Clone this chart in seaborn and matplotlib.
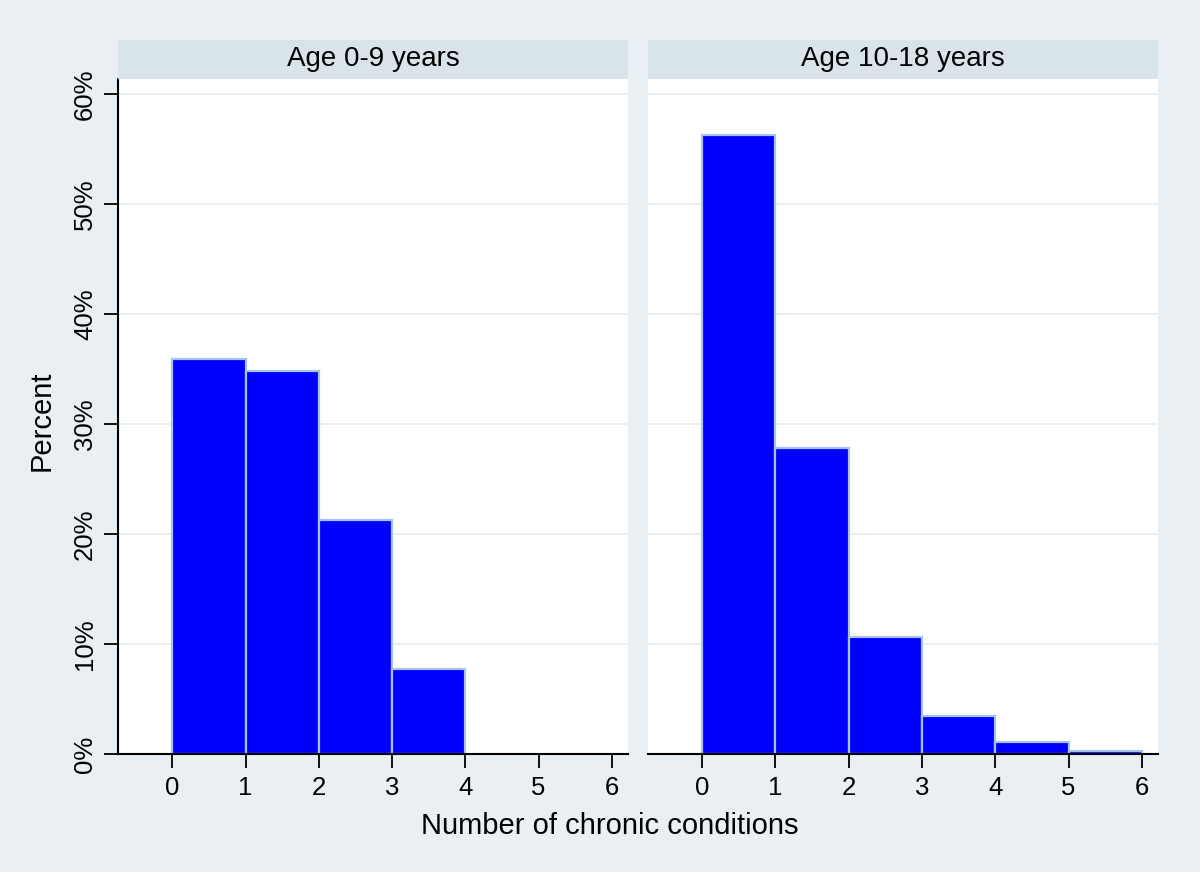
import pandas as pd
import matplotlib
matplotlib.use("Agg")
import matplotlib.pyplot as plt
import matplotlib.patches as mpatches
import seaborn as sns

# percent of children by number of chronic conditions
conditions_young = [0, 1, 2, 3]
percent_young = [35.9, 34.8, 21.3, 7.7]
conditions_teen = [0, 1, 2, 3, 4, 5]
percent_teen = [56.3, 27.8, 10.6, 3.5, 1.1, 0.25]
panel_titles = ["Age 0-9 years", "Age 10-18 years"]
ytick_vals = [0, 10, 20, 30, 40, 50, 60]
ytick_labels = ["0%", "10%", "20%", "30%", "40%", "50%", "60%"]
xtick_vals = [0, 1, 2, 3, 4, 5, 6]

sns.set_style("white")
plt.rcParams["font.family"] = ["Liberation Sans", "DejaVu Sans"]
plt.rcParams["text.color"] = "black"
plt.rcParams["xtick.color"] = "black"
plt.rcParams["ytick.color"] = "black"

bg = "#e9eff2"
strip_col = "#d9e4ea"
W, H = 1200, 872

fig = plt.figure(figsize=(12, 8.72), dpi=100)
fig.patch.set_facecolor(bg)

panels = [(118, conditions_young, percent_young), (648, conditions_teen, percent_teen)]
for i, (x0, xs, ps) in enumerate(panels):
    df = pd.DataFrame({"n": xs, "pct": ps})
    ax = fig.add_axes([x0 / W, 118 / H, 510 / W, 675 / H])
    ax.set_facecolor("white")
    ax.set_axisbelow(True)
    for yv in ytick_vals:
        ax.axhline(yv, color="#e9eef0", lw=1.3, zorder=0)
    sns.histplot(data=df, x="n", weights="pct", binwidth=1, binrange=(0, len(xs)), ax=ax,
                 color="#0000ff", edgecolor="#a6c2ee", linewidth=1.6, alpha=1)
    ax.set_xlim(-0.74, 6.22)
    ax.set_ylim(0, 61.4)
    ax.set_xticks(xtick_vals)
    ax.set_xticklabels([str(v) for v in xtick_vals], fontsize=18.5)
    ax.tick_params(axis="x", length=10, width=1.3, color="black", pad=6, direction="out",
                   bottom=True, labelcolor="black")
    ax.set_xlabel("")
    ax.set_ylabel("")
    for s in ["top", "right"]:
        ax.spines[s].set_visible(False)
    ax.spines["bottom"].set_color("black")
    ax.spines["bottom"].set_linewidth(1.5)
    if i == 0:
        ax.spines["left"].set_color("black")
        ax.spines["left"].set_linewidth(1.5)
        ax.set_yticks(ytick_vals)
        ax.set_yticklabels(ytick_labels, fontsize=18.5, rotation=90, va="center")
        ax.tick_params(axis="y", length=10, width=1.3, color="black", pad=5, direction="out",
                       left=True, labelcolor="black")
    else:
        ax.spines["left"].set_visible(False)
        ax.set_yticks([])
    # strip header
    fig.add_artist(mpatches.Rectangle((x0 / W, (H - 79) / H), 510 / W, 39 / H,
                                      transform=fig.transFigure, facecolor=strip_col,
                                      edgecolor="none"))
    fig.text((x0 + 255) / W, (H - 59) / H, panel_titles[i], ha="center", va="center",
             fontsize=20, color="black")

fig.text(610 / W, (H - 826) / H, "Number of chronic conditions", ha="center", va="center",
         fontsize=21, color="black")
fig.text(42 / W, (H - 421) / H, "Percent", ha="center", va="center", rotation=90,
         fontsize=21, color="black")

fig.savefig("out.png", dpi=100, facecolor=bg)
